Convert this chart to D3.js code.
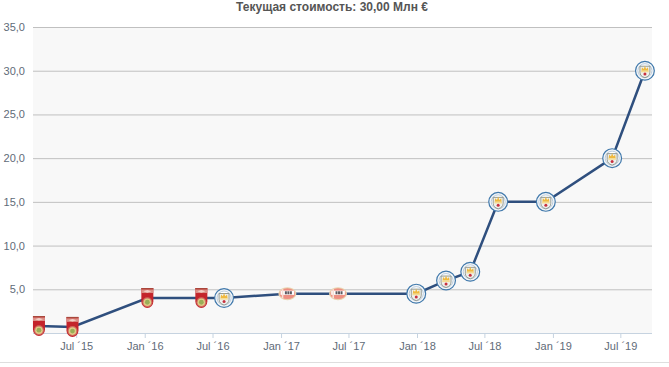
<!DOCTYPE html>
<html lang="en">
<head>
<meta charset="utf-8">
<title>Текущая стоимость</title>
<script src="https://cdn.jsdelivr.net/npm/d3@7"></script>
<style>
  html, body { margin: 0; padding: 0; background: #fff; }
  svg { display: block; }
  text { font-family: "Liberation Sans", Arial, sans-serif; }
</style>
</head>
<body>
<script>
// data
var dates = ["2015-03-23", "2015-06-21", "2016-01-08", "2016-06-01", "2016-08-01", "2017-01-18", "2017-06-03",
             "2017-12-30", "2018-03-20", "2018-05-24", "2018-08-07", "2018-12-13", "2019-06-09", "2019-09-05"];
var values = [0.8, 0.7, 4, 4, 4, 4.5, 4.5, 4.5, 6, 7, 15, 15, 20, 30];
var clubs = ["ufa", "ufa", "ufa", "ufa", "city", "psv", "psv", "city", "city", "city", "city", "city", "city", "city"];
var yTicks = [5, 10, 15, 20, 25, 30, 35];
var xTickDates = ["2015-07-01", "2016-01-01", "2016-07-01", "2017-01-01", "2017-07-01",
                  "2018-01-01", "2018-07-01", "2019-01-01", "2019-07-01"];
var xTickLabels = ["Jul ´15", "Jan ´16", "Jul ´16", "Jan ´17", "Jul ´17", "Jan ´18", "Jul ´18", "Jan ´19", "Jul ´19"];
var xDomain = ["2015-03-07", "2019-09-24"];
var titleText = "Текущая стоимость: 30,00 Млн €";

var w = 669, h = 367;
var left = 33, right = 652, top_ = 27, bottom = 333;

var parseDate = d3.utcParse("%Y-%m-%d");

var xScale = d3.scaleUtc().domain(xDomain.map(parseDate)).range([left, right]);
var yScale = d3.scaleLinear().domain([0, 35]).range([bottom, top_]);

var svg = d3.select("body").append("svg").attr("width", w).attr("height", h);

svg.append("rect")
    .attr("x", left).attr("y", top_)
    .attr("width", right - left).attr("height", bottom - top_)
    .attr("fill", "#f8f8f8");

// title
svg.append("text")
    .attr("x", 332).attr("y", 11)
    .attr("text-anchor", "middle")
    .attr("font-size", "12px").attr("font-weight", "bold")
    .attr("fill", "#555")
    .text(titleText);

// y axis with gridlines
var yAxis = d3.axisLeft(yScale)
    .tickValues(yTicks)
    .tickSize(-(right - left))
    .tickPadding(8)
    .tickFormat(function(d) { return d3.format(".1f")(d).replace(".", ","); });

var yG = svg.append("g").attr("transform", "translate(" + left + ",0)").call(yAxis);
yG.select(".domain").remove();
yG.selectAll("line").attr("stroke", "#c0c0c0");
yG.selectAll("text")
    .attr("font-family", null).attr("font-size", "11px").attr("fill", "#5f6b78");

// x axis
var xAxis = d3.axisBottom(xScale)
    .tickValues(xTickDates.map(parseDate))
    .tickSize(5)
    .tickPadding(4)
    .tickFormat(function(d, i) { return xTickLabels[i]; });

var xG = svg.append("g").attr("transform", "translate(0," + bottom + ")").call(xAxis);
xG.select(".domain").attr("stroke", "#c6d3e0").attr("d", "M" + left + ",0.5H" + right);
xG.selectAll("line").attr("stroke", "#c6d3e0");
xG.selectAll("text")
    .attr("font-family", null).attr("font-size", "11px").attr("fill", "#5f6b78");

// rule under the chart
svg.append("line")
    .attr("x1", 0).attr("x2", w).attr("y1", 362.5).attr("y2", 362.5)
    .attr("stroke", "#dedede");

var points = dates.map(function(d, i) {
    return { date: parseDate(d), value: values[i], club: clubs[i] };
});

var line = d3.line()
    .x(function(d) { return xScale(d.date); })
    .y(function(d) { return yScale(d.value); });

svg.append("path")
    .datum(points)
    .attr("d", line)
    .attr("fill", "none")
    .attr("stroke", "#2f4f7e")
    .attr("stroke-width", 2.5);

// club crests
function drawUfa(g) {
    g.append("path").attr("d", "M-6,-10H6V3.5A6,6.5 0 0 1 -6,3.5Z").attr("fill", "#c4242b");
    g.append("rect").attr("x", -6).attr("y", -10).attr("width", 12).attr("height", 1.5).attr("fill", "#a8483c");
    g.append("rect").attr("x", -6).attr("y", -8.5).attr("width", 12).attr("height", 3.5).attr("fill", "#dc8f86");
    g.append("path").attr("d", "M-4,-6.7L0,-8L4,-6.7L0,-5.4Z").attr("fill", "#f1cfc6");
    g.append("circle").attr("cy", 4.2).attr("r", 5).attr("fill", "#cf6a5f");
    g.append("circle").attr("cy", 4.2).attr("r", 3.8).attr("fill", "#e0cb86");
    g.append("circle").attr("cy", 4.2).attr("r", 2.4).attr("fill", "#9aae58");
}

function drawCity(g) {
    g.append("circle").attr("r", 9.4).attr("fill", "#f4f6f8").attr("stroke", "#3f78ab").attr("stroke-width", 1.2);
    g.append("circle").attr("r", 7).attr("fill", "#fff").attr("stroke", "#a9c0d6").attr("stroke-width", 0.8);
    g.append("path").attr("d", "M-5,-4.5H5V1.5Q5,5.5 0,7Q-5,5.5 -5,1.5Z").attr("fill", "#eef1ee").attr("stroke", "#8a8f84").attr("stroke-width", 0.9);
    g.append("path").attr("d", "M-3.5,0L-3,-3.5L-1.2,-1.8L0,-5L1.2,-1.8L3,-3.5L3.5,0Z").attr("fill", "#f0b93e");
    g.append("rect").attr("x", -3.8).attr("y", 0).attr("width", 7.6).attr("height", 1.6).attr("fill", "#f6dc93");
    g.append("circle").attr("cy", 3.4).attr("r", 1.5).attr("fill", "#c8303f");
}

function drawPsv(g) {
    g.append("ellipse").attr("rx", 9).attr("ry", 6.5).attr("fill", "#e9d3ae");
    g.append("ellipse").attr("rx", 7.8).attr("ry", 5.4).attr("fill", "#ee8f82");
    g.append("rect").attr("x", -6.8).attr("y", -3).attr("width", 13.6).attr("height", 4.2).attr("fill", "#fff");
    g.append("rect").attr("x", -2.5).attr("y", -2.4).attr("width", 2).attr("height", 3).attr("fill", "#5f5a60");
    g.append("rect").attr("x", 0).attr("y", -2.4).attr("width", 2).attr("height", 3).attr("fill", "#5f5a60");
    g.append("rect").attr("x", 2.5).attr("y", -2.4).attr("width", 2).attr("height", 3).attr("fill", "#5f5a60");
    g.append("rect").attr("x", -5.6).attr("y", -4.5).attr("width", 1.6).attr("height", 9).attr("fill", "#f7dfd5");
}

var crests = { ufa: drawUfa, city: drawCity, psv: drawPsv };

svg.selectAll("g.crest")
    .data(points)
    .enter()
    .append("g")
    .attr("class", "crest")
    .attr("transform", function(d) {
        return "translate(" + xScale(d.date) + "," + yScale(d.value) + ")";
    })
    .each(function(d) { crests[d.club](d3.select(this)); });
</script>
</body>
</html>
